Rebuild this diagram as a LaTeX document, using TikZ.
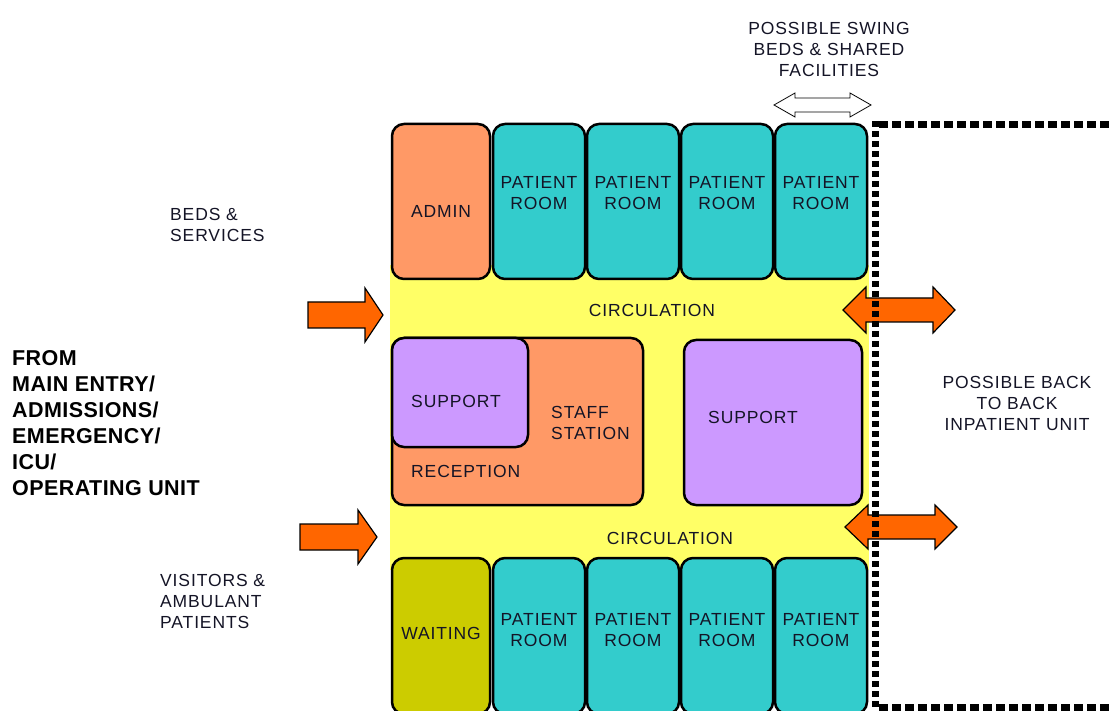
\documentclass[tikz,border=0pt]{standalone}
\usepackage{fontspec}
\setmainfont{Liberation Sans}
\newfontfamily\planfont{Liberation Sans}[LetterSpace=5]
\newfontfamily\fromfont{Liberation Sans}[LetterSpace=2]
\usepackage{xcolor}
\definecolor{salmon}{HTML}{FF9966}
\definecolor{roomteal}{HTML}{33CCCC}
\definecolor{lilac}{HTML}{CC99FF}
\definecolor{corridor}{HTML}{FFFF66}
\definecolor{olive}{HTML}{CCCC00}
\definecolor{flow}{HTML}{FF6600}
\definecolor{ink}{HTML}{141426}

\begin{document}
\begin{tikzpicture}[x=1pt,y=-1pt,
  box/.style={draw=black, line width=2.5pt, rounded corners=12pt, inner sep=0pt},
  room/.style={box, fill=roomteal, minimum width=92pt, minimum height=155pt},
  lbl/.style={font=\planfont\fontsize{17.5}{21}\selectfont, align=center, inner sep=0pt, text=ink},
  side/.style={lbl, align=left, anchor=west},
  flowarrow/.style={draw=black, line width=1.2pt, fill=flow, line join=miter},
  wall/.style={draw=black, line width=7pt, dash pattern=on 6pt off 4pt}]
\useasboundingbox (0,0) rectangle (1109,711);
\clip (0,0) rectangle (1109,711);

% corridor
\fill [corridor] (390,265) rectangle (869,570);

% top row
\node [box, fill=salmon, minimum width=98pt, minimum height=155pt] (admin) at (441,201.5) {};
\node [room] (top1) at (539,201.5) {};
\node [room] (top2) at (633,201.5) {};
\node [room] (top3) at (727,201.5) {};
\node [room] (top4) at (821,201.5) {};
\node [lbl] (admin-t) at ([yshift=-10pt]admin.center) {ADMIN};
\node [lbl] (top1-t) at ([yshift=8pt]top1.center) {PATIENT\\ROOM};
\node [lbl] (top2-t) at ([yshift=8pt]top2.center) {PATIENT\\ROOM};
\node [lbl] (top3-t) at ([yshift=8pt]top3.center) {PATIENT\\ROOM};
\node [lbl] (top4-t) at ([yshift=8pt]top4.center) {PATIENT\\ROOM};

% middle
\node [box, fill=salmon, minimum width=251pt, minimum height=167pt] (recep) at (517.5,421.5) {};
\node [box, fill=lilac, minimum width=136pt, minimum height=109pt] (supp1) at (460,392.5) {};
\node [box, fill=lilac, minimum width=178pt, minimum height=165pt] (supp2) at (773,422.5) {};
\node [lbl] (supp1-t) at (456,401) {SUPPORT};
\node [side] (staff-t) at (551,423) {STAFF\\STATION};
\node [side] (recep-t) at (411,471) {RECEPTION};
\node [lbl] (supp2-t) at (753,417) {SUPPORT};
\node [lbl] (circ1) at (652,310) {CIRCULATION};
\node [lbl] (circ2) at (670,538) {CIRCULATION};

% bottom row
\node [box, fill=olive, minimum width=98pt, minimum height=156pt] (wait) at (441,636) {};
\node [room, minimum height=156pt] (bot1) at (539,636) {};
\node [room, minimum height=156pt] (bot2) at (633,636) {};
\node [room, minimum height=156pt] (bot3) at (727,636) {};
\node [room, minimum height=156pt] (bot4) at (821,636) {};
\node [lbl] (wait-t) at ([yshift=3pt]wait.center) {WAITING};
\node [lbl] (bot1-t) at ([yshift=6pt]bot1.center) {PATIENT\\ROOM};
\node [lbl] (bot2-t) at ([yshift=6pt]bot2.center) {PATIENT\\ROOM};
\node [lbl] (bot3-t) at ([yshift=6pt]bot3.center) {PATIENT\\ROOM};
\node [lbl] (bot4-t) at ([yshift=6pt]bot4.center) {PATIENT\\ROOM};

% arrows in from the left
\draw [flowarrow] (308,302) -- (365,302) -- (365,288) -- (383,315) -- (365,342) -- (365,328) -- (308,328) -- cycle;
\draw [flowarrow] (300,524) -- (358,524) -- (358,510) -- (377,537) -- (358,564) -- (358,550) -- (300,550) -- cycle;
% arrows to the next unit
\draw [flowarrow] (843,310) -- (866,287) -- (866,298) -- (933,298) -- (933,287) -- (955,310) -- (933,333) -- (933,322) -- (866,322) -- (866,333) -- cycle;
\draw [flowarrow] (845,527) -- (868,505) -- (868,515) -- (935,515) -- (935,505) -- (957,527) -- (935,549) -- (935,539) -- (868,539) -- (868,549) -- cycle;
% swing beds
\draw [draw=black, line width=0.8pt, fill=white] (774,105) -- (795,93) -- (795,98) -- (850,98) -- (850,93) -- (871,105) -- (850,117) -- (850,112) -- (795,112) -- (795,117) -- cycle;

% unit boundary
\draw [wall] (875,121) -- (875,711);
\draw [wall, dash pattern=on 9pt off 4pt] (879,125) -- (1109,125);
\draw [wall, dash pattern=on 9pt off 4pt] (879,707) -- (1109,707);

% notes
\node [lbl] (swing) at (829,49) {POSSIBLE SWING\\BEDS \& SHARED\\FACILITIES};
\node [side] (beds) at (170,224.5) {BEDS \&\\SERVICES};
\node [side, font=\fromfont\bfseries\fontsize{21.5}{26}\selectfont, text=black] (from) at (12,423) {FROM\\MAIN ENTRY/\\ADMISSIONS/\\EMERGENCY/\\ICU/\\OPERATING UNIT};
\node [side] (visit) at (160,601) {VISITORS \&\\AMBULANT\\PATIENTS};
\node [lbl] (back) at (1017,403.5) {POSSIBLE BACK\\TO BACK\\INPATIENT UNIT};

\end{tikzpicture}
\end{document}
